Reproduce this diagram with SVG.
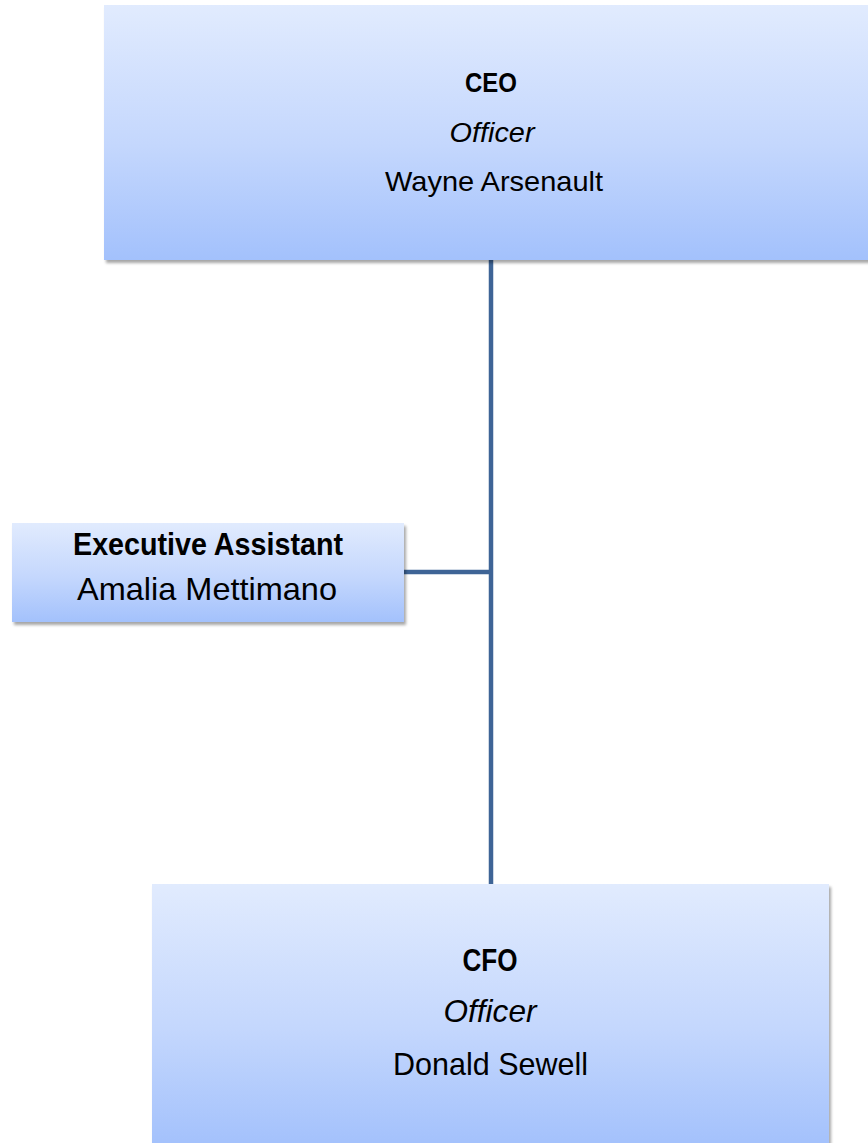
<svg xmlns="http://www.w3.org/2000/svg" width="868" height="1143" viewBox="0 0 868 1143">
<defs>
<linearGradient id="g" x1="0" y1="0" x2="0" y2="1">
<stop offset="0" stop-color="#e1ebfe"/>
<stop offset="0.55" stop-color="#c4d7fd"/>
<stop offset="1" stop-color="#a3c1fc"/>
</linearGradient>
<filter id="sh" x="-10%" y="-10%" width="120%" height="130%">
<feGaussianBlur in="SourceAlpha" stdDeviation="1.8"/>
<feOffset dx="1.5" dy="3" result="b"/>
<feComponentTransfer><feFuncA type="linear" slope="0.35"/></feComponentTransfer>
<feMerge><feMergeNode/><feMergeNode in="SourceGraphic"/></feMerge>
</filter>
</defs>
<style>
.box{fill:url(#g);filter:url(#sh)}
.t{font-family:"Liberation Sans",Arial,sans-serif;fill:#000;text-anchor:middle}
.b{font-weight:bold}
.i{font-style:italic}
.c{fill:none;stroke:#3e6496;stroke-width:4.5}
</style>
<rect width="868" height="1143" fill="#ffffff"/>
<g id="connectors">
<line class="c" x1="491" y1="260" x2="491" y2="884"/>
<line class="c" x1="403" y1="572" x2="491" y2="572"/>
</g>
<g id="ceo">
<rect class="box" x="104" y="5" width="780" height="255"/>
<text class="t b" x="491" y="92" font-size="28" textLength="52" lengthAdjust="spacingAndGlyphs">CEO</text>
<text class="t i" x="492" y="142" font-size="28" textLength="85" lengthAdjust="spacingAndGlyphs">Officer</text>
<text class="t" x="494" y="191" font-size="28" textLength="218" lengthAdjust="spacingAndGlyphs">Wayne Arsenault</text>
</g>
<g id="exec">
<rect class="box" x="12" y="523" width="392" height="99"/>
<text class="t b" x="208" y="555" font-size="30.5" textLength="270" lengthAdjust="spacingAndGlyphs">Executive Assistant</text>
<text class="t" x="207" y="600" font-size="30.5" textLength="260" lengthAdjust="spacingAndGlyphs">Amalia Mettimano</text>
</g>
<g id="cfo">
<rect class="box" x="152" y="884" width="677" height="262"/>
<text class="t b" x="490" y="971" font-size="30.5" textLength="55" lengthAdjust="spacingAndGlyphs">CFO</text>
<text class="t i" x="490" y="1022" font-size="30.5" textLength="93" lengthAdjust="spacingAndGlyphs">Officer</text>
<text class="t" x="490.5" y="1075" font-size="30.5" textLength="195" lengthAdjust="spacingAndGlyphs">Donald Sewell</text>
</g>
</svg>
